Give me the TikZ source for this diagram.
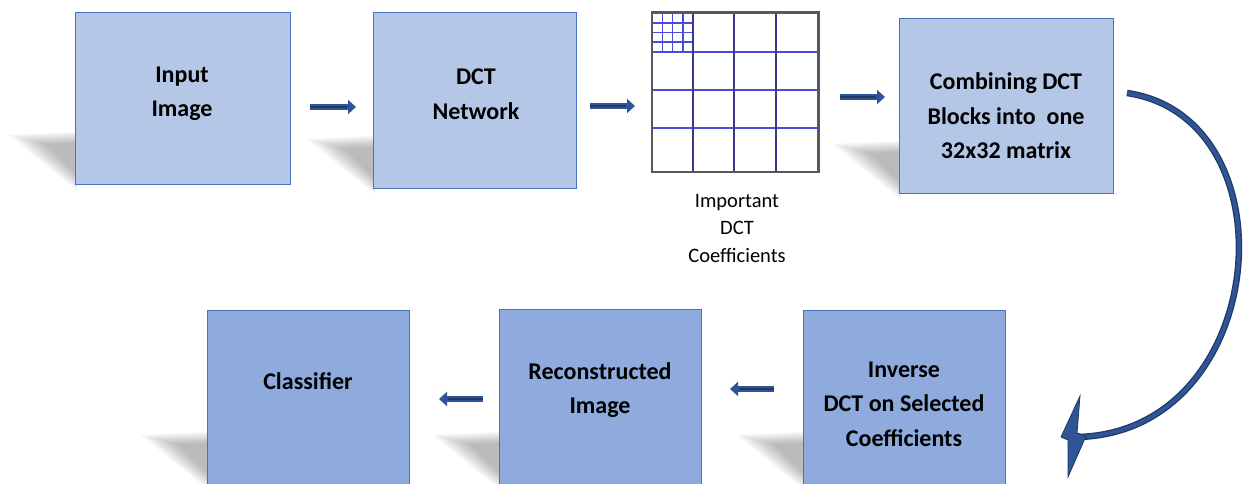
\documentclass[tikz,border=0pt]{standalone}
\usepackage{fontspec}
\setmainfont{Carlito}
\usetikzlibrary{arrows.meta}
\definecolor{boxA}{HTML}{B4C7E7}
\definecolor{boxB}{HTML}{8FAADC}
\definecolor{boxline}{HTML}{4472C4}
\definecolor{arrblue}{HTML}{2F5597}
\definecolor{arrdark}{HTML}{1F3864}
\definecolor{gridv}{rgb}{0.22,0.22,0.55}
\definecolor{gridh}{rgb}{0.30,0.30,0.85}
\tikzset{
  boxtop/.style={draw=boxline, line width=0.8pt, fill=boxA, inner sep=0pt},
  boxbot/.style={draw=boxline, line width=0.8pt, fill=boxB, inner sep=0pt},
  lbl/.style={font=\bfseries\fontsize{24}{34.5}\selectfont, align=center, text=black, inner sep=0pt},
  caption/.style={font=\fontsize{20.5}{27.5}\selectfont, align=center, text=black, inner sep=0pt},
  flowout/.style={draw=arrblue, line width=6.5pt, -{Triangle[length=8pt,width=14pt]}},
  flowin/.style={draw=arrdark, line width=2.4pt},
  shadowlayer/.style={fill=black, opacity=0.045, draw=none}
}
\begin{document}
\begin{tikzpicture}[x=1pt,y=-1pt]
\useasboundingbox (0,0) rectangle (1248,484);
\begin{scope}
\clip (0,0) rectangle (1248,484);
% soft shadows
\foreach \L/\B in {75/184, 373/188, 899/193, 207/484, 499/484, 803/484}{
  \foreach \k in {0,...,6}{
    \fill[shadowlayer] (\L+2,\B-52+1.8*\k) -- (\L-66+6*\k,\B-49+1.5*\k) -- (\L+2,\B+6-2.5*\k) -- cycle;
  }
}
% boxes
\node[boxtop, minimum width=215pt, minimum height=172pt] (b1) at (182.5,98) {};
\node[boxtop, minimum width=203pt, minimum height=176pt] (b2) at (474.5,100) {};
\node[boxtop, minimum width=214pt, minimum height=175pt] (b3) at (1006,105.5) {};
\node[boxbot, minimum width=202pt, minimum height=180pt] (b6) at (308,400) {};
\node[boxbot, minimum width=202pt, minimum height=180pt] (b5) at (600,399) {};
\node[boxbot, minimum width=202pt, minimum height=180pt] (b4) at (904,400) {};
\end{scope}
% labels
\node[lbl] (t1) at (182,94) {Input\\Image};
\node[lbl] (t2) at (476,94) {DCT\\Network};
\node[lbl] (t3) at (1006,116) {Combining DCT\\Blocks into\ \ one\\32x32 matrix};
\node[lbl] (t6) at (308,381) {Classifier};
\node[lbl] (t5) at (600,390) {Reconstructed\\Image};
\node[lbl] (t4) at (904,404) {Inverse\\DCT on Selected\\Coefficients};
% grid
\node[draw=none, minimum width=166pt, minimum height=159pt, inner sep=0pt] (grid) at (735,92.5) {};
\foreach \y in {23,32.5,42}{\draw[gridh, line width=1.3pt] (652,\y) -- (693,\y);}
\foreach \x in {662.5,672.5,683}{\draw[gridh, line width=1.3pt] (\x,13) -- (\x,52);}
\foreach \y in {52,90,128}{\draw[gridh, line width=1.8pt] (652,\y) -- (818,\y);}
\foreach \x in {693,734,776}{\draw[gridv, line width=1.8pt] (\x,13) -- (\x,172);}
\draw[black!65, line width=2.6pt] (grid.north west) rectangle (grid.south east);
\node[caption] (cap) at (737,228) {Important\\DCT\\Coefficients};
% straight arrows
\coordinate (a1s) at (310,107); \coordinate (a1e) at (356,107); \coordinate (a1m) at (347,107);
\coordinate (a2s) at (590,106); \coordinate (a2e) at (635,106); \coordinate (a2m) at (626,106);
\coordinate (a3s) at (840,97);  \coordinate (a3e) at (885,97);  \coordinate (a3m) at (876,97);
\coordinate (a4s) at (774,389); \coordinate (a4e) at (730,389); \coordinate (a4m) at (739,389);
\coordinate (a5s) at (483,399); \coordinate (a5e) at (439,399); \coordinate (a5m) at (448,399);
\foreach \i in {1,...,5}{
  \draw[flowout] (a\i s) -- (a\i e);
  \draw[flowin] (a\i s) -- (a\i m);
}
% curved arrow
\coordinate (cs) at (1127,93);
\coordinate (ce) at (1078,437);
\draw[arrdark, line width=6.5pt] (cs) .. controls (1295,118) and (1270,432) .. (ce);
\draw[arrblue, line width=4pt] (cs) .. controls (1295,118) and (1270,432) .. (ce);
\fill[arrblue, draw=arrdark, line width=0.8pt] (1061,437) -- (1080,396) -- (1077,433) -- (1086,436) -- (1068,477) -- (1068,440) -- cycle;
\end{tikzpicture}
\end{document}
